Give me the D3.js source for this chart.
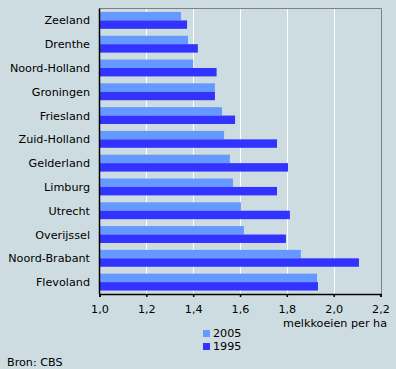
<!DOCTYPE html>
<html>
<head>
<meta charset="utf-8">
<script src="https://cdn.jsdelivr.net/npm/d3@7"></script>
<style>
html,body{margin:0;padding:0;background:#cddce1;}
svg{display:block;}
text{font-family:"DejaVu Sans",Verdana,sans-serif;font-size:11.2px;fill:#000;}
</style>
</head>
<body>
<svg id="chart" width="396" height="369"></svg>
<script>
const categories = ["Zeeland","Drenthe","Noord-Holland","Groningen","Friesland","Zuid-Holland","Gelderland","Limburg","Utrecht","Overijssel","Noord-Brabant","Flevoland"];
const values2005 = [1.348,1.378,1.40,1.493,1.523,1.532,1.557,1.570,1.604,1.617,1.860,1.929];
const values1995 = [1.374,1.42,1.50,1.493,1.579,1.758,1.805,1.758,1.813,1.796,2.108,1.933];
const seriesNames = ["2005","1995"];
const tickValues = [1.0,1.2,1.4,1.6,1.8,2.0,2.2];
const axisTitle = "melkkoeien per ha";
const source = "Bron: CBS";

const colors = {"2005":"#6699ff","1995":"#3333ff"};
const svg = d3.select("#chart");
const L = 99.5, R = 380.5, T = 8.5, B = 294;

const x = d3.scaleLinear().domain([1.0,2.2]).range([L,R]);
const y = d3.scaleBand().domain(categories).range([T,B]).paddingInner(0.29).paddingOuter(0.145);
const ySub = d3.scaleBand().domain(seriesNames).range([0,y.bandwidth()]);

// gridlines
svg.append("g").selectAll("line").data(tickValues.slice(1,-1)).join("line")
  .attr("x1",d=>Math.round(x(d))+0.5).attr("x2",d=>Math.round(x(d))+0.5)
  .attr("y1",T).attr("y2",B).attr("stroke","#fff").attr("stroke-width",1);

// top/right border
svg.append("path").attr("d",`M${L},${T}H${Math.round(R)+0.5}V${B}`).attr("fill","none").attr("stroke","#808080");

const data = categories.map((c,i)=>({cat:c, "2005":values2005[i], "1995":values1995[i]}));
const g = svg.append("g");
seriesNames.forEach(s=>{
  g.selectAll("rect.s"+s).data(data).join("rect")
    .attr("x",x(1.0)+0.5)
    .attr("y",d=>y(d.cat)+ySub(s))
    .attr("width",d=>x(d[s])-x(1.0)-0.5)
    .attr("height",ySub.bandwidth())
    .attr("fill",colors[s]);
});

// x axis
const xAxis = d3.axisBottom(x).tickValues(tickValues).tickSize(3).tickPadding(8)
  .tickFormat(d=>d3.format(".1f")(d).replace(".",","));
const ax = svg.append("g").attr("transform",`translate(0,${B})`).call(xAxis);
ax.select(".domain").attr("stroke","#000").attr("stroke-width",1.5);
ax.selectAll(".tick line").attr("stroke","#000").attr("stroke-width",1.5);
ax.selectAll("text").attr("font-size",11.2).attr("font-family","DejaVu Sans").attr("fill","#000");

// y axis (line only + labels)
svg.append("line").attr("x1",L).attr("x2",L).attr("y1",T).attr("y2",B).attr("stroke","#000").attr("stroke-width",1.5);
svg.append("g").selectAll("text").data(categories).join("text")
  .attr("x",90).attr("y",d=>y(d)+y.bandwidth()/2+4)
  .attr("text-anchor","end").text(d=>d);

// axis title
svg.append("text").attr("x",387).attr("y",327).attr("text-anchor","end").text(axisTitle);

// legend
const leg = svg.append("g");
seriesNames.forEach((s,i)=>{
  leg.append("rect").attr("x",203).attr("y",330+i*13).attr("width",7).attr("height",7).attr("fill",colors[s]);
  leg.append("text").attr("x",213).attr("y",337+i*13).text(s);
});

// source
svg.append("text").attr("x",7).attr("y",366).text(source);
</script>
</body>
</html>
